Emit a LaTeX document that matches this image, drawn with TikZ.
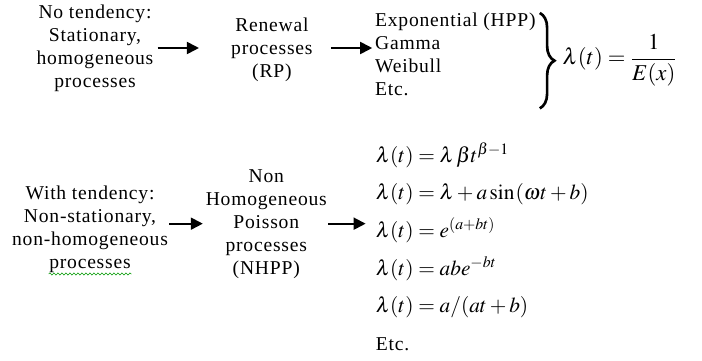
\documentclass[tikz,border=0pt]{standalone}
\usepackage{mathptmx}
\usepackage[no-math]{fontspec}
\setmainfont{Liberation Serif}[LetterSpace=4]
\usepackage{tikz}
\usetikzlibrary{arrows.meta,positioning,decorations.pathreplacing,decorations.pathmorphing}

\begin{document}
\begin{tikzpicture}[
  x=1pt,y=1pt,
  txt/.style={inner sep=0pt,align=center,font=\fontsize{14.7}{17.25}\selectfont},
  lefttxt/.style={txt,align=left},
  eq/.style={inner sep=0pt,anchor=base west,font=\fontsize{16}{17.25}\selectfont},
  arrow/.style={-{Triangle[length=9pt,width=9pt]},line width=1.4pt},
  curly/.style={decorate,decoration={brace,amplitude=11pt},line width=2pt}
]
\useasboundingbox (0,0) rectangle (526.5,-270);
% top row
\node[txt] (nots) at (71.25,-36) {No tendency:\\Stationary,\\homogeneous\\processes};
\node[txt,right=58pt of nots,yshift=-1pt] (rp) {Renewal\\processes\\(RP)};
\node[lefttxt,right=46.5pt of rp,yshift=-4pt] (lst) {Exponential (HPP)\\Gamma\\Weibull\\Etc.};
\node[txt,anchor=west,font=\fontsize{17}{20}\selectfont] (rate) at ([xshift=20pt,yshift=-4pt]lst.east) {$\displaystyle\lambda(t)=\frac{1}{E(x)}$};
\draw[curly] ([xshift=3pt]lst.north east) -- ([xshift=3pt,yshift=-9pt]lst.south east);
\draw[arrow,shorten <=3pt,shorten >=24pt] (nots.east) -- (nots.east -| rp.west);
\draw[arrow,shorten <=13.5pt,shorten >=2pt] (nots.east -| rp.east) -- (nots.east -| lst.west);
% bottom row
\node[txt] (wt) at (67.5,-171.75) {With tendency:\\Non-stationary,\\non-homogeneous\\processes};
\draw[green!60!black,line width=0.4pt,decorate,decoration={snake,amplitude=0.8pt,segment length=3pt}]
  ([xshift=-31pt,yshift=-1pt]wt.south) -- ([xshift=31pt,yshift=-1pt]wt.south);
\node[txt,right=28pt of wt,yshift=4pt] (nhpp) {Non\\Homogeneous\\Poisson\\processes\\(NHPP)};
\node[eq] (eq1) at ([xshift=36.4pt,yshift=46pt]nhpp.east) {$\lambda(t)=\lambda\,\beta t^{\beta-1}$};
\foreach \f [count=\i from 2] in {$\lambda(t)=\lambda+a\sin\mkern1mu(\omega t+b)$,$\lambda(t)=e^{(a+bt)}$,$\lambda(t)=abe^{-bt}$,$\lambda(t)=a/(at+b)$,{\fontsize{14.7}{17.25}\selectfont Etc.}}{
  \pgfmathtruncatemacro\j{\i-1}
  \node[eq] (eq\i) at ([yshift=-28.2pt]eq\j.base west) {\f};
}
\draw[arrow,shorten <=1pt,shorten >=2pt] (wt.east |- nhpp.west) -- (nhpp.west);
\draw[arrow,shorten <=1pt,shorten >=7.5pt] (nhpp.east) -- (nhpp.east -| eq1.west);
\end{tikzpicture}
\end{document}
